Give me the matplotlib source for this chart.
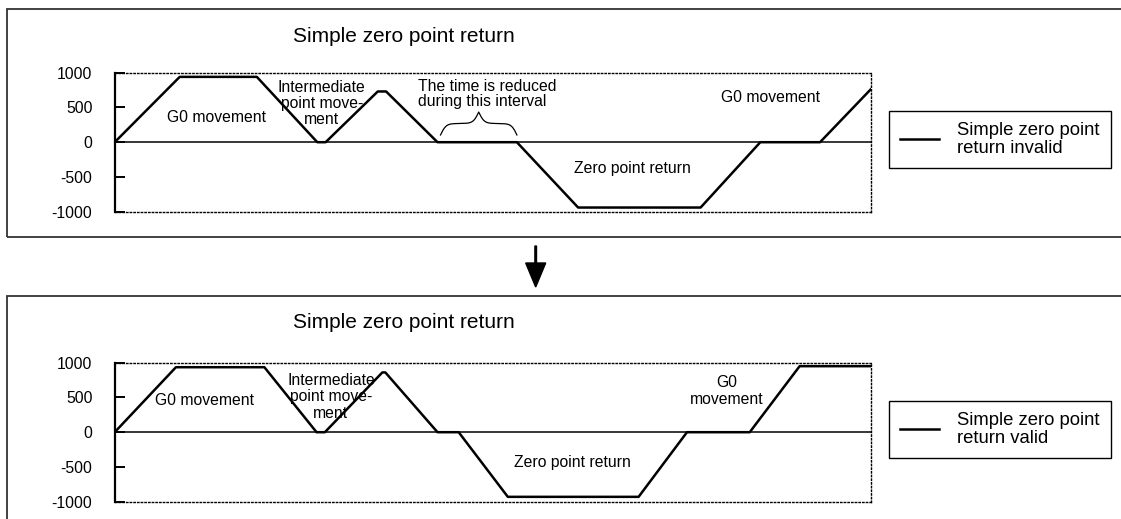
import matplotlib
matplotlib.use('Agg')
import matplotlib.pyplot as plt
import numpy as np
from matplotlib.patches import Rectangle, FancyArrow

plt.rcParams['font.family'] = ['Liberation Sans', 'DejaVu Sans']
plt.rcParams['axes.unicode_minus'] = False

# time axis runs 0..100, speed in the range -1000..1000
invalid_t = [0, 8.6, 18.8, 26.8, 27.9, 34.8, 35.9, 42.7, 53.2, 61.3, 77.5, 85.4, 93.3, 100]
invalid_v = [0, 940, 940, 0, 0, 730, 730, 0, 0, -940, -940, 0, 0, 760]

valid_t = [0, 8.1, 19.8, 26.7, 27.8, 35.4, 35.8, 42.7, 45.5, 52.0, 69.3, 75.7, 84.0, 90.6, 100]
valid_v = [0, 935, 935, 0, 0, 860, 860, 0, 0, -930, -930, 0, 0, 950, 950]

yticks = [-1000, -500, 0, 500, 1000]
title = 'Simple zero point return'
labels = ['Simple zero point\nreturn invalid', 'Simple zero point\nreturn valid']

W, H = 1121, 519
fig = plt.figure(figsize=(W / 100, H / 100), dpi=100)


def fx(px):
    return px / W


def fy(py):
    return 1 - py / H


def brace(ax, x0, x1, ybase, height):
    # curly brace over the interval [x0, x1], tip in the middle
    u = np.linspace(0, 1, 120)
    b = 14
    c = 1 / (1 + np.exp(-b * u)) + 1 / (1 + np.exp(-b * (u - 1)))
    c = (c - c[0]) / (c[-1] - c[0])
    half = (x1 - x0) / 2
    xs = np.concatenate([x0 + u * half, x1 - u[::-1] * half])
    ys = np.concatenate([c, c[::-1]]) * height + ybase
    ax.plot(xs, ys, color='black', lw=0.9)


def setup_axes(ax):
    ax.set_facecolor('none')
    ax.set_xlim(0, 100)
    ax.set_ylim(-1000, 1000)
    ax.set_yticks(yticks)
    ax.set_xticks([])
    ax.tick_params(axis='y', direction='in', length=7.2, width=1.4,
                   labelsize=11.3, pad=16)
    ax.spines['left'].set_linewidth(1.6)
    for s in ['top', 'bottom', 'right']:
        ax.spines[s].set_linestyle(':')
        ax.spines[s].set_linewidth(1.0)
    ax.axhline(0, color='black', lw=1.1, zorder=1)


def add_panel(top_px, ax_top_px, t, v, label):
    # panel frame (runs off the right edge like the original)
    fig.add_artist(Rectangle((fx(7), fy(top_px + 228)), 1.2, 228 / H,
                             transform=fig.transFigure, fill=False,
                             edgecolor='#333333', lw=1.3))
    ax = fig.add_axes([fx(114.7), fy(ax_top_px + 139), fx(756), 139 / H])
    setup_axes(ax)
    ax.plot(t, v, color='black', lw=1.8, label=label, zorder=3)
    fig.text(fx(403.5), fy(top_px + 27), title, fontsize=15,
             ha='center', va='center')
    leg = ax.legend(loc='upper left', bbox_to_anchor=(fx(889), fy(ax_top_px + 38)),
                    bbox_transform=fig.transFigure, fancybox=False,
                    edgecolor='black', framealpha=1, fontsize=13.3,
                    handlelength=2.1, handletextpad=1.0, borderpad=0.6,
                    borderaxespad=0)
    leg.get_frame().set_linewidth(1.0)
    for txt in leg.get_texts():
        txt.set_linespacing(1.1)
    return ax


ax1 = add_panel(9, 72.7, invalid_t, invalid_v, labels[0])
ax1.text(13.5, 358, 'G0 movement', fontsize=11.3, ha='center', va='center')
ax1.text(27.4, 560, 'Intermediate\npoint move-\nment', fontsize=11.3,
         ha='center', va='center', linespacing=1.1)
ax1.text(40.1, 693, 'The time is reduced\nduring this interval', fontsize=11.3,
         ha='left', va='center', linespacing=1.05)
brace(ax1, invalid_t[7] + 0.4, invalid_t[8], 104, 330)
ax1.text(68.5, -372, 'Zero point return', fontsize=11.3, ha='center', va='center')
ax1.text(86.7, 646, 'G0 movement', fontsize=11.3, ha='center', va='center')

ax2 = add_panel(296, 362.7, valid_t, valid_v, labels[1])
ax2.text(11.9, 454, 'G0 movement', fontsize=11.3, ha='center', va='center')
ax2.text(28.6, 508, 'Intermediate\npoint move-\nment', fontsize=11.3,
         ha='center', va='center', linespacing=1.1)
ax2.text(60.6, -437, 'Zero point return', fontsize=11.3, ha='center', va='center')
ax2.text(81.0, 594, 'G0\nmovement', fontsize=11.3, ha='center', va='center',
         linespacing=1.1)

# arrow between the two panels
fig.add_artist(FancyArrow(fx(535.7), fy(246), 0, -(287 - 246) / H,
                          width=1.6 / W, head_width=20 / W, head_length=24 / H,
                          length_includes_head=True, transform=fig.transFigure,
                          color='black'))

fig.savefig('out.png', dpi=100)
